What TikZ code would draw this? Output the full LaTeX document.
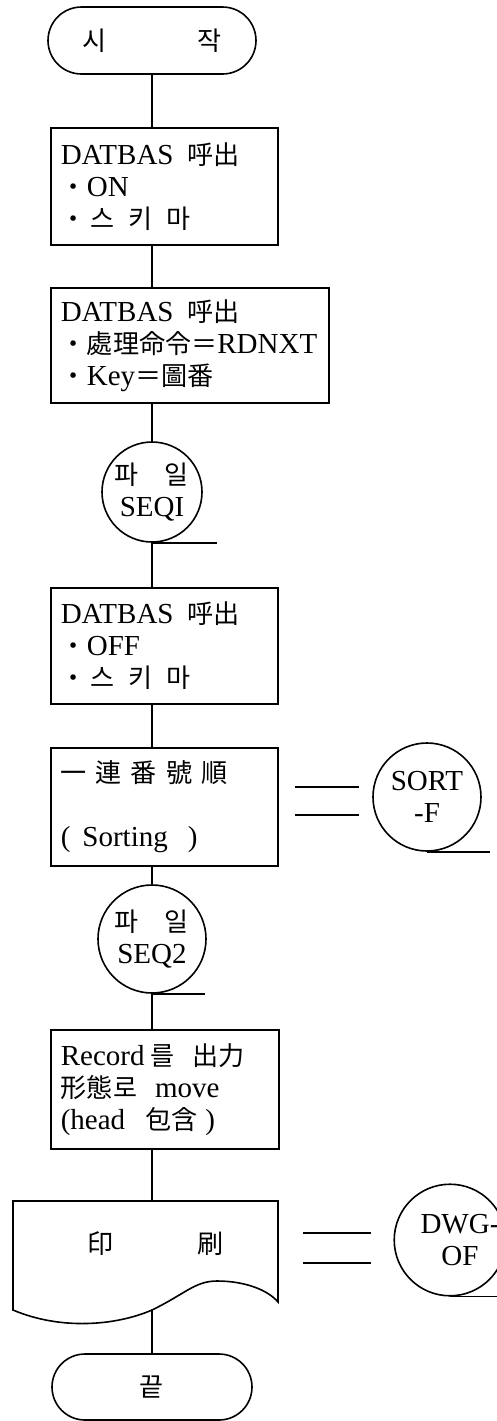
\documentclass[tikz,border=0pt]{standalone}
\usepackage{fontspec}
\setmainfont{Liberation Serif}
\newfontfamily\krfont[Scale=0.9]{Noto Sans CJK KR}
\newcommand\kr[1]{{\krfont #1}}
\usetikzlibrary{shapes.misc}

\begin{document}
\begin{tikzpicture}[x=0.5pt,y=-0.5pt,line width=0.8pt,
  font=\fontsize{14.5}{16}\selectfont,
  termbox/.style={draw,rounded rectangle,inner sep=0pt},
  procbox/.style={draw,rectangle,anchor=north west,align=left,inner xsep=5pt,inner ysep=0pt},
  filecirc/.style={draw,circle,inner sep=0pt,align=center}]
  \useasboundingbox (0,0) rectangle (497,1421);
  \coordinate (flow) at (152,0);

  % main flow
  \node[termbox,minimum width=104pt,minimum height=33.5pt] (start) at (152,40.5)
    {\kr{시\hspace{45pt}작}};
  \node[procbox,text width=103.5pt,minimum height=58.5pt] (box1) at (50,127)
    {DATBAS\hspace{7pt}\kr{呼出}\\
     \kr{・}ON\\
     \kr{・\hspace{2pt}스\hspace{7pt}키\hspace{7pt}마}};
  \node[procbox,text width=129pt,minimum height=57.5pt] (box2) at (50,287)
    {DATBAS\hspace{7pt}\kr{呼出}\\
     \kr{・處理命令＝}RDNXT\\
     \kr{・}Key\kr{＝圖番}};
  \node[filecirc,minimum size=50pt] (seq1) at (152,492)
    {\kr{파\hspace{13pt}일}\\SEQI};
  \node[procbox,text width=103.5pt,minimum height=58pt] (box3) at (50,587)
    {DATBAS\hspace{7pt}\kr{呼出}\\
     \kr{・}OFF\\
     \kr{・\hspace{2pt}스\hspace{7pt}키\hspace{7pt}마}};
  \node[procbox,text width=103.5pt,minimum height=59pt] (box4) at (50,747)
    {\kr{一\hspace{4.5pt}連\hspace{4.5pt}番\hspace{4.5pt}號\hspace{4.5pt}順}\\[16pt]
     (\hspace{6pt}Sorting\hspace{10pt})};
  \node[filecirc,minimum size=54pt] (seq2) at (152,939)
    {\kr{파\hspace{13pt}일}\\SEQ2};
  \node[procbox,text width=104pt,minimum height=59.5pt] (box5) at (50,1029)
    {Record\hspace{3pt}\kr{를}\hspace{9pt}\kr{出力}\\
     \kr{形態로}\hspace{9pt}move\\
     (head\hspace{10pt}\kr{包含}\hspace{4pt})};

  % print document with wavy bottom
  \draw (13,1201) coordinate (prt-nw) -- (278,1201) -- (278,1302)
    .. controls (268,1290) and (245,1281) .. (217,1281)
    .. controls (195,1281) and (185,1294) .. (152,1310) coordinate (prt-s)
    .. controls (115,1326) and (60,1330) .. (13,1310) -- cycle;
  \coordinate (prt-n) at (152,1201);
  \node (prt) at (156,1244) {\kr{印\hspace{42pt}刷}};

  \node[termbox,minimum width=100pt,minimum height=33pt] (stop) at (152,1387)
    {\kr{끝}};

  % side files
  \node[filecirc,minimum size=54pt] (sortf) at (427,797) {SORT\\-F};
  \node[filecirc,minimum size=53pt] (dwg) at (450,1240)
    {\hspace*{10pt}DWG-\\\hspace*{10pt}OF};

  \draw (flow |- start.south) -- (flow |- box1.north);
  \draw (flow |- box1.south) -- (flow |- box2.north);
  \draw (flow |- box2.south) -- (seq1.north);
  \draw (seq1.south) -- (flow |- box3.north);
  \draw (flow |- box3.south) -- (flow |- box4.north);
  \draw (flow |- box4.south) -- (seq2.north);
  \draw (seq2.south) -- (flow |- box5.north);
  \draw (flow |- box5.south) -- (prt-n);
  \draw (prt-s) -- (stop.north);

  % tape tails
  \draw (seq1.south) -- ++(65,0);
  \draw (seq2.south) -- ++(53,0);
  \draw (sortf.south) -- ++(63,0);
  \draw (dwg.south) -- ++(50,0);

  % double lines to the side files
  \draw (295,787) -- (359,787);
  \draw (295,815) -- (359,815);
  \draw (303,1233) -- (371,1233);
  \draw (303,1263) -- (371,1263);
\end{tikzpicture}
\end{document}
